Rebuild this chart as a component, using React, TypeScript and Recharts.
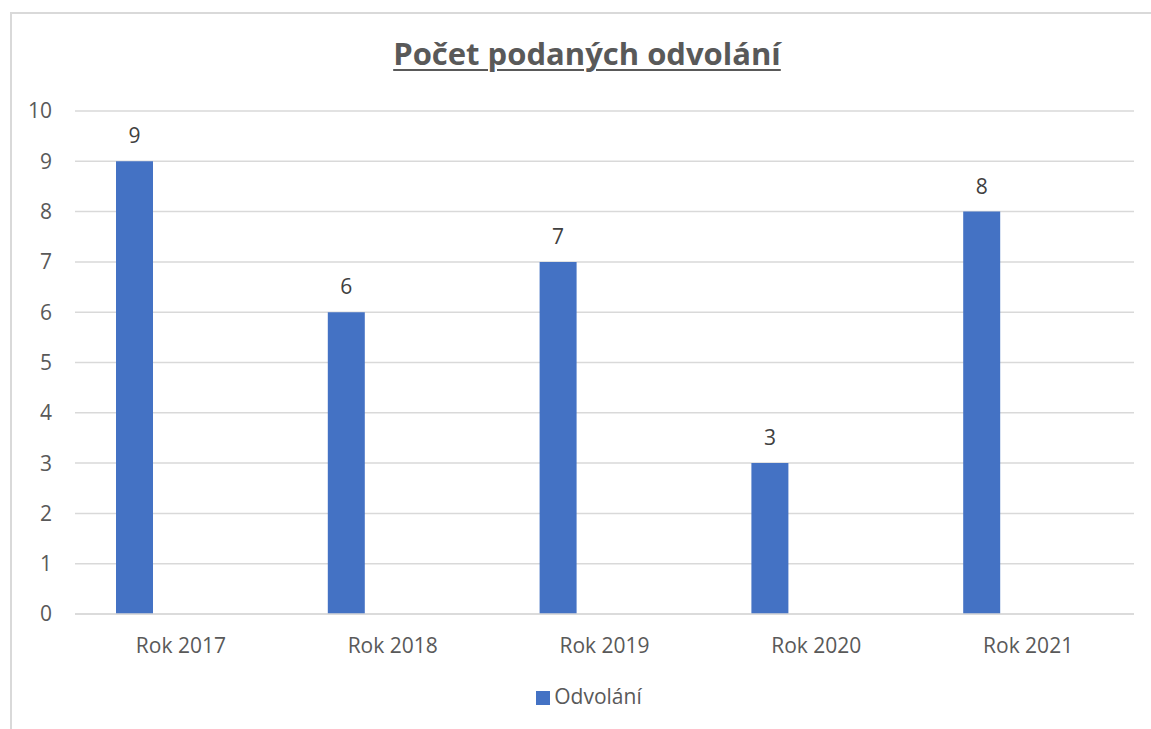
import React from 'react';
import { BarChart, Bar, XAxis, YAxis, CartesianGrid, Legend, LabelList } from 'recharts';

const categories = ['Rok 2017', 'Rok 2018', 'Rok 2019', 'Rok 2020', 'Rok 2021'];
const odvolani = [9, 6, 7, 3, 8];
const emptySeries: (number | null)[] = [null, null, null, null, null];
const yTicks = [0, 1, 2, 3, 4, 5, 6, 7, 8, 9, 10];
const title = 'Počet podaných odvolání';
const seriesName = 'Odvolání';

const data = categories.map((c, i) => ({ name: c, odvolani: odvolani[i], empty: emptySeries[i] }));

const FONT = "'Open Sans', 'Noto Sans', sans-serif";

export default function App() {
  return (
    <div style={{ position: 'fixed', left: 0, top: 0, width: 1151, height: 729, overflow: 'hidden', background: '#fff', fontFamily: FONT }}>
      <div style={{ position: 'absolute', left: 10, top: 12, width: 1200, height: 800, borderLeft: '2px solid #D9D9D9', borderTop: '2px solid #D9D9D9', boxSizing: 'border-box' }} />
      <div style={{ position: 'absolute', left: 0, top: 33, width: 1174, textAlign: 'center', fontSize: 31, fontWeight: 700, color: '#595959', textDecoration: 'underline', textUnderlineOffset: 4, textDecorationThickness: 2, lineHeight: '40px' }}>
        {title}
      </div>
      <div style={{ position: 'absolute', left: 0, top: 0 }}>
        <BarChart width={1151} height={729} data={data} barGap={0} margin={{ top: 111, right: 17, bottom: 57, left: 0 }} style={{ fontFamily: FONT }}>
          <CartesianGrid vertical={false} stroke="#D9D9D9" strokeWidth={1.5} />
          <XAxis dataKey="name" axisLine={{ stroke: '#D9D9D9', strokeWidth: 1.5 }} tickLine={false} tickSize={0} tickMargin={24} tick={{ fontSize: 21, fill: '#595959', fontFamily: FONT }} />
          <YAxis width={75} domain={[0, 10]} ticks={yTicks} axisLine={false} tickLine={false} tickSize={0} tickMargin={23} tick={{ fontSize: 21, fill: '#595959', fontFamily: FONT }} />
          <Legend iconType="square" iconSize={14} wrapperStyle={{ position: 'absolute', top: 682, left: 0, width: 1188, fontSize: 21, fontFamily: FONT }} formatter={(v) => <span style={{ color: '#595959' }}>{v}</span>} />
          <Bar dataKey="odvolani" name={seriesName} fill="#4472C4" barSize={37} isAnimationActive={false}>
            <LabelList dataKey="odvolani" position="top" offset={18} style={{ fontSize: 21, fill: '#404040', fontFamily: FONT }} />
          </Bar>
          <Bar dataKey="empty" name="" fill="transparent" barSize={93} legendType="none" isAnimationActive={false} />
        </BarChart>
      </div>
    </div>
  );
}
